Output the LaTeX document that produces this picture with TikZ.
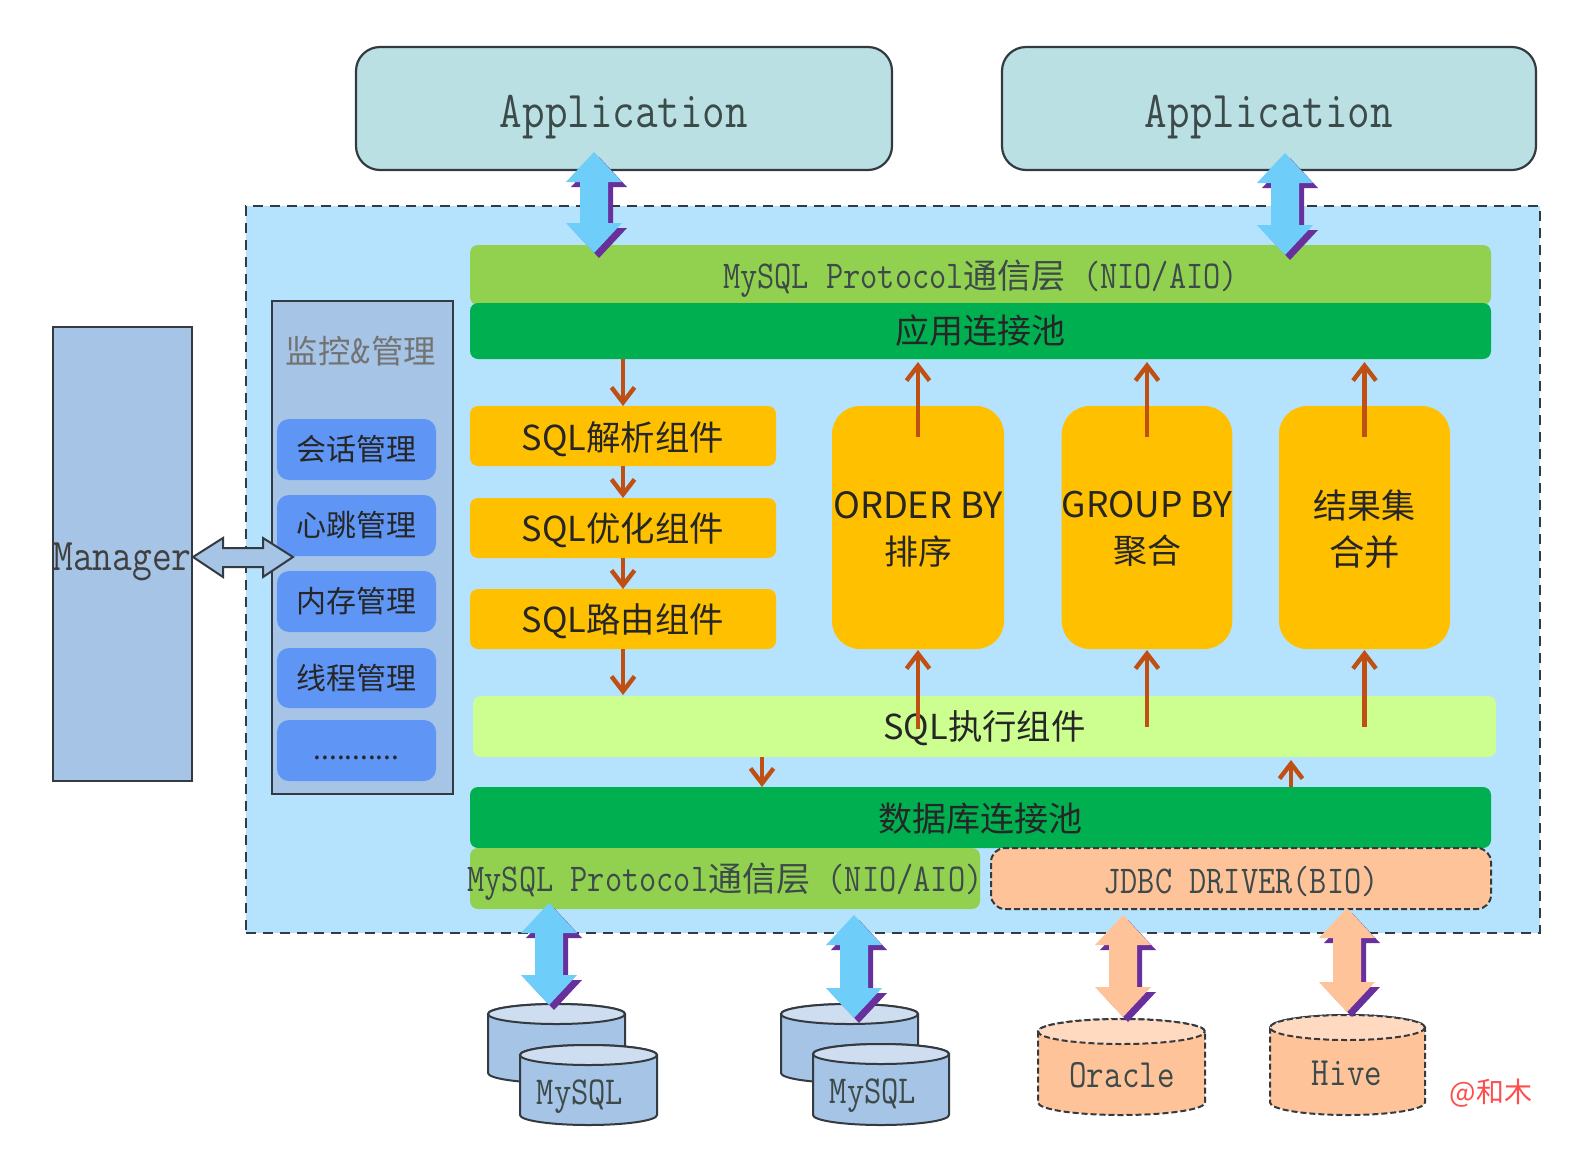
\documentclass[tikz,border=0pt]{standalone}
\usepackage{fontspec}
\usepackage{graphicx}
\newfontfamily\cjk{Noto Sans CJK SC}
\usetikzlibrary{arrows.meta,calc}
\definecolor{appfill}{HTML}{BAE0E3}
\definecolor{regionfill}{HTML}{B5E3FD}
\definecolor{protofill}{HTML}{92D050}
\definecolor{poolfill}{HTML}{00B050}
\definecolor{orangefill}{HTML}{FFC000}
\definecolor{execfill}{HTML}{CCFF8F}
\definecolor{smallblue}{HTML}{5F96F6}
\definecolor{steelfill}{HTML}{A6C4E6}
\definecolor{steeltop}{HTML}{CFDDF0}
\definecolor{peachfill}{HTML}{FFC39A}
\definecolor{peachtop}{HTML}{FFD9C0}
\definecolor{arrowblue}{HTML}{6FCDFA}
\definecolor{shadowpurple}{HTML}{67309C}
\definecolor{brownline}{HTML}{BF4F12}
\definecolor{darkline}{HTML}{333A40}
\definecolor{monotext}{HTML}{3C4A4A}
\newcommand\mono[2][1.18]{\scalebox{1}[#1]{\ttfamily #2}}
\newcommand\fs[2]{\fontsize{#1pt}{#2pt}\selectfont}
% move a single line of node text down by #1 (pt)
\newcommand\dn[2]{\raisebox{0pt}[\dimexpr\height+#1pt*2\relax][\depth]{#2}}
% style, name, x1, y1, x2, y2, text
\newcommand\bx[7]{%
  \pgfmathsetmacro\bw{(#5-#3)*0.5}\pgfmathsetmacro\bh{(#6-#4)*0.5}%
  \node[#1,minimum width=\bw pt,minimum height=\bh pt] (#2) at ({(#3+#5)/2},{(#4+#6)/2}) {#7};}
% style, x1, x2, ytop, ybot, ry, top fill
\newcommand\cyl[7]{%
  \pgfmathsetmacro\crx{(#3-#2)*0.25}\pgfmathsetmacro\cry{#6*0.5}%
  \draw[#1] (#2,#4+#6) -- (#2,#5-#6) arc[start angle=180,end angle=360,x radius=\crx pt,y radius=\cry pt]
     -- (#3,#4+#6) arc[start angle=0,end angle=180,x radius=\crx pt,y radius=\cry pt] -- cycle;
  \draw[#1,fill=#7] ({(#2+#3)/2},#4+#6) ellipse[x radius=\crx pt,y radius=\cry pt];}
% tip coordinate names: top, bottom; fill colour
\newcommand\bigarr[3]{%
  \foreach \sx/\col in {5/shadowpurple,0/#3}{
  \coordinate (tmpt) at ($(#1)+(\sx,\sx)$);
  \coordinate (tmpb) at ($(#2)+(\sx,\sx)$);
  \fill[\col] (tmpt) -- ++(28,30) -- ++(-14,0) -- ($(tmpb)+(14,-30)$) -- ++(14,0) -- (tmpb)
     -- ++(-28,-30) -- ++(14,0) -- ($(tmpt)+(-14,30)$) -- ++(-14,0) -- cycle;}}
\tikzset{
  flat/.style={inner sep=0pt,outer sep=0pt,align=center},
  appbox/.style={flat,draw=darkline,line width=1.1pt,fill=appfill,rounded corners=12pt,text=monotext},
  region/.style={flat,draw=darkline,line width=1pt,dash pattern=on 5pt off 3.5pt,fill=regionfill},
  proto/.style={flat,fill=protofill,rounded corners=4pt,text=monotext},
  pool/.style={flat,fill=poolfill,rounded corners=4pt,text=black!85},
  jdbc/.style={flat,fill=peachfill,draw=darkline,line width=1pt,dash pattern=on 3pt off 1.5pt,rounded corners=7pt,text=monotext},
  steelbox/.style={flat,fill=steelfill,draw=darkline,line width=1pt,text=black!75},
  smallbox/.style={flat,fill=smallblue,rounded corners=6pt,text=black!85,font=\cjk\fs{15}{18}},
  orangebar/.style={flat,fill=orangefill,rounded corners=4pt,text=black!85,font=\cjk\fs{17.2}{20}},
  orangebig/.style={flat,fill=orangefill,rounded corners=14pt,text=black!85,font=\cjk\fs{17.7}{23.5}},
  execbar/.style={flat,fill=execfill,rounded corners=4pt,text=black!85,font=\cjk\fs{17.2}{20}},
  flowarr/.style={draw=brownline,line width=2.2pt,-{Straight Barb[length=7.5pt,width=11.5pt,line width=2.2pt]}},
  cylblue/.style={draw=darkline,line width=1pt,fill=steelfill},
  cylpeach/.style={draw=darkline,line width=1pt,dash pattern=on 3pt off 1.5pt,fill=peachfill},
  cyltext/.style={inner sep=0pt,text=monotext},
  mgrarr/.style={draw=darkline,line width=1pt,fill=steelfill,line join=miter},
}
\begin{document}
\begin{tikzpicture}[x=0.5pt,y=-0.5pt]
\useasboundingbox (0,0) rectangle (1592,1158);
\fill[white] (0,0) rectangle (1592,1158);
% applications
\bx{appbox}{app1}{356}{47}{892}{170}{\fs{21.9}{24}\dn{4.5}{\mono{Application}}}
\bx{appbox}{app2}{1002}{47}{1536}{170}{\fs{21.9}{24}\dn{4.5}{\mono{Application}}}
% server region
\bx{region}{server}{246}{206}{1540}{933}{}
% manager and monitor
\bx{steelbox}{manager}{53}{327}{192}{781}{\fs{19.2}{22}\dn{4}{\mono{Manager}}}
\bx{steelbox}{monitor}{272}{301}{453}{794}{}
\node[inner sep=0pt,text=black!55,font=\cjk\fs{16.2}{20}] (montitle) at (361,351) {监控{\fontsize{20pt}{20pt}\selectfont\ttfamily\&}管理};
\bx{smallbox}{sess}{277}{419}{436}{480}{会话管理}
\bx{smallbox}{heart}{277}{495}{436}{556}{心跳管理}
\bx{smallbox}{mem}{277}{571}{436}{632}{内存管理}
\bx{smallbox}{thread}{277}{648}{436}{708}{线程管理}
\bx{smallbox}{more}{277}{720}{436}{781}{\dn{3.5}{\fs{14}{18}...........}}
% manager arrow
\coordinate (mgrtip) at (193,557);
\coordinate (montip) at (293,557);
\draw[mgrarr] (mgrtip) -- ++(30,-19) -- ++(0,10) -- ++(40,0) -- ++(0,-10) -- (montip) -- ++(-30,20) -- ++(0,-10) -- ++(-40,0) -- ++(0,10) -- cycle;
% bars
\bx{proto}{ptop}{470}{245}{1491}{305}{\dn{2}{\fs{16.7}{20}\mono{MySQL Protocol}{\cjk\fs{17}{20}通信层}\mono{\ (NIO/AIO)}}}
\bx{pool}{apool}{470}{303}{1491}{359}{\cjk\fs{17}{20}应用连接池}
\bx{orangebar}{parse}{470}{406}{776}{466}{\dn{1.5}{SQL解析组件}}
\bx{orangebar}{optim}{470}{498}{776}{558}{\dn{1}{SQL优化组件}}
\bx{orangebar}{route}{470}{589}{776}{649}{\dn{1}{SQL路由组件}}
\bx{orangebig}{order}{832}{406}{1004}{649}{\rule{0pt}{15pt}\fs{18.1}{23.5}ORDER BY\\[-0.5pt]\fs{17}{20}排序}
\bx{orangebig}{group}{1062}{406}{1232}{649}{\rule{0pt}{15pt}GROUP BY\\[-0.5pt]\fs{17}{20}聚合}
\bx{orangebig}{result}{1279}{406}{1450}{649}{\fs{17}{23.5}\rule{0pt}{16pt}结果集\\合并}
\bx{execbar}{exec}{473}{696}{1496}{757}{\dn{1}{SQL执行组件}}
\bx{pool}{dbpool}{470}{787}{1491}{848}{\dn{0.5}{\cjk\fs{17}{20}数据库连接池}}
\bx{proto}{pbot}{470}{848}{980}{909}{\dn{1.5}{\makebox[0pt]{\fs{16.7}{20}\mono{MySQL Protocol}{\cjk\fs{17}{20}通信层}\mono{\ (NIO/AIO)}}}}
\bx{jdbc}{jdbcbar}{991}{848}{1491}{909}{\dn{1.5}{\fs{16.7}{20}\mono{JDBC DRIVER(BIO)}}}
% flow arrows
\draw[flowarr] (apool.south -| parse.north) -- (parse.north);
\draw[flowarr] (parse.south) -- (optim.north);
\draw[flowarr] (optim.south) -- (route.north);
\draw[flowarr] (route.south) -- ($(exec.north -| route.south)+(0,-1)$);
\draw[flowarr] ($(order.north)+(0,31)$) -- ($(apool.south -| order.north)+(0,3)$);
\draw[flowarr] ($(group.north)+(0,31)$) -- ($(apool.south -| group.north)+(0,3)$);
\draw[flowarr] ($(result.north)+(0,31)$) -- ($(apool.south -| result.north)+(0,3)$);
\draw[flowarr] ($(exec.center -| order.south)+(0,2)$) -- ($(order.south)+(0,1)$);
\draw[flowarr] ($(exec.south -| group.south)+(0,-30)$) -- ($(group.south)+(0,1)$);
\draw[flowarr] ($(exec.south -| result.south)+(0,-30)$) -- ($(result.south)+(0,1)$);
\coordinate (edown) at (762,757);
\coordinate (eup) at (1291,787);
\draw[flowarr] (edown) -- (edown |- dbpool.north);
\draw[flowarr] (eup) -- ($(eup |- exec.south)+(0,3)$);
% databases
\cyl{cylblue}{488}{625}{1004}{1083}{10}{steeltop}
\cyl{cylblue}{520}{657}{1045}{1125}{10}{steeltop}
\cyl{cylblue}{781}{918}{1004}{1083}{10}{steeltop}
\cyl{cylblue}{813}{949}{1044}{1125}{10}{steeltop}
\cyl{cylpeach}{1038}{1205}{1019}{1115}{12.5}{peachtop}
\cyl{cylpeach}{1270}{1425}{1015}{1115}{12.5}{peachtop}
\node[cyltext] (db1) at (580,1097) {\fs{16.8}{20}\mono{MySQL}};
\node[cyltext] (db2) at (873,1096) {\fs{16.8}{20}\mono{MySQL}};
\node[cyltext] (db3) at (1122,1075) {\fs{17}{20}\mono{Oracle}};
\node[cyltext] (db4) at (1347,1073) {\fs{17}{20}\mono{Hive}};
\node[inner sep=0pt,text=red!70!white,font=\cjk\fs{14}{16}] (mark) at (1491,1093) {@和木};
% big double arrows
\coordinate (a1t) at (594,152); \coordinate (a1b) at (594,253);
\coordinate (a2t) at (1285,153); \coordinate (a2b) at (1285,255);
\coordinate (a3t) at (549,903); \coordinate (a3b) at (549,1005);
\coordinate (a4t) at (854,915); \coordinate (a4b) at (854,1018);
\coordinate (a5t) at (1123,915); \coordinate (a5b) at (1123,1017);
\coordinate (a6t) at (1347,908); \coordinate (a6b) at (1347,1012);
\bigarr{a1t}{a1b}{arrowblue}
\bigarr{a2t}{a2b}{arrowblue}
\bigarr{a3t}{a3b}{arrowblue}
\bigarr{a4t}{a4b}{arrowblue}
\bigarr{a5t}{a5b}{peachfill}
\bigarr{a6t}{a6b}{peachfill}
\end{tikzpicture}
\end{document}
